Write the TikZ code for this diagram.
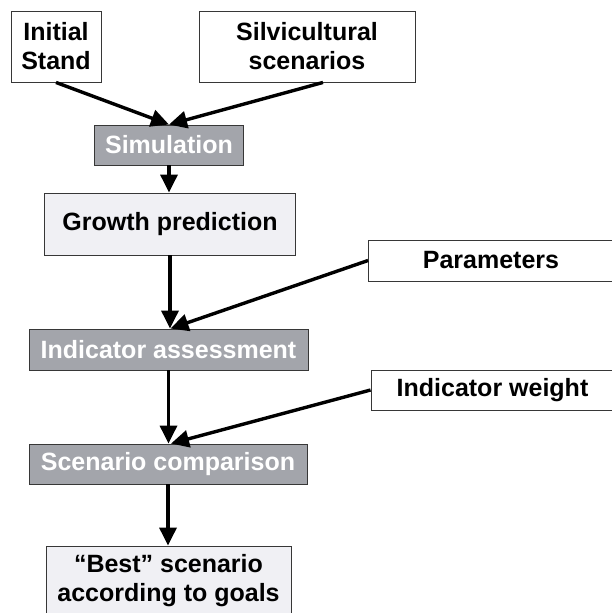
\documentclass[tikz,border=0pt]{standalone}
\usepackage{fontspec}
\setmainfont{Liberation Sans}
\usetikzlibrary{positioning,arrows.meta,calc}
\definecolor{stepgray}{RGB}{163,165,171}
\definecolor{resultgray}{RGB}{240,240,244}
\definecolor{edgegray}{RGB}{55,55,55}

\begin{document}
\begin{tikzpicture}[x=1pt, y=-1pt, >={Triangle[length=18pt,width=17pt]},
    box/.style={draw=edgegray, line width=0.9pt, align=center, inner sep=0pt,
        font=\bfseries\fontsize{25}{29}\selectfont},
    inputbox/.style={box, fill=white},
    stepbox/.style={box, fill=stepgray, text=white},
    outbox/.style={box, fill=resultgray},
    flow/.style={->, line width=3.4pt}]

    \useasboundingbox (0,0) rectangle (611,613);

    % Entrées du haut
    \node[inputbox, minimum width=90pt, minimum height=71pt] (stand) at (56,46.5) {Initial\\Stand};
    \node[inputbox, minimum width=216pt, minimum height=71pt] (silvi) at (307,46.5) {Silvicultural\\scenarios};

    % Simulation et croissance
    \node[stepbox, minimum width=149pt, minimum height=40pt] (simul) at (169,145) {Simulation};
    \node[outbox, minimum width=251pt, minimum height=62pt] (growth) at (170,224) {Growth prediction};

    % Entrées de droite
    \node[inputbox, minimum width=245pt, minimum height=41pt] (param) at (491,260.5) {Parameters};
    \node[inputbox, minimum width=243pt, minimum height=40pt] (weight) at (492.5,390) {Indicator weight};

    % Évaluation et comparaison
    \node[stepbox, minimum width=279pt, minimum height=41pt] (assess) at (168.5,349.5) {Indicator assessment};
    \node[stepbox, minimum width=278pt, minimum height=40pt] (compar) at (168,464) {Scenario comparison};

    % Résultat
    \node[outbox, minimum width=245pt, minimum height=70pt] (best) at (168.5,581) {``Best'' scenario\\according to goals};

    % Flèches
    \draw[flow] (stand.south) -- (simul.north);
    \draw[flow] ([xshift=16pt]silvi.south) -- (simul.north);
    \draw[flow] (simul.south) -- (simul.south |- growth.north);
    \draw[flow] (growth.south) -- (growth.south |- assess.north);
    \draw[flow] (param.west) -- ([xshift=2pt]assess.north);
    \draw[flow] (assess.north |- assess.south) -- (assess.north |- compar.north);
    \draw[flow] (weight.west) -- ([xshift=3pt]compar.north);
    \draw[flow] (compar.south) -- (compar.south |- best.north);
\end{tikzpicture}
\end{document}
